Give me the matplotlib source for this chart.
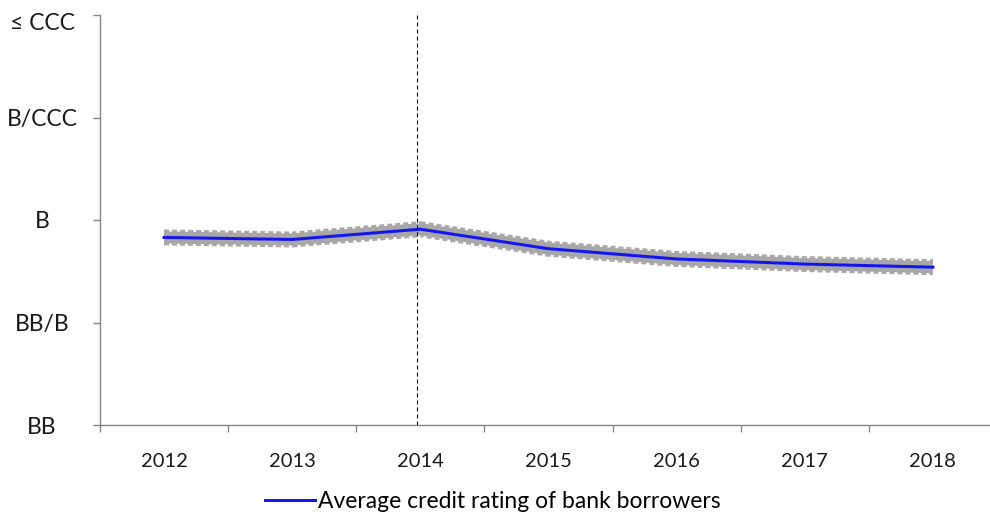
import matplotlib
matplotlib.use("Agg")
import matplotlib.pyplot as plt
from matplotlib.lines import Line2D
from matplotlib.transforms import ScaledTranslation

# ---- data ----
years = ["2012", "2013", "2014", "2015", "2016", "2017", "2018"]
rating_labels = ["BB", "BB/B", "B", "B/CCC", "≤ CCC"]
avg_rating = [1.83, 1.81, 1.91, 1.72, 1.62, 1.57, 1.54]
event_year_pos = 1.97  # vertical marker near 2014
legend_label = "Average credit rating of bank borrowers"

plt.rcParams['font.family'] = ['Lato', 'DejaVu Sans']
plt.rcParams['lines.scale_dashes'] = False

DPI = 100
fig = plt.figure(figsize=(9.9, 5.19), dpi=DPI)
W, H = 990, 519
ax = fig.add_axes([100 / W, 1 - 425 / H, 897 / W, 410 / H])

x = list(range(len(years)))
px = 72 / DPI  # points per pixel

# gray band: solid core + dashed outer for "square bump" look
ax.plot(x, avg_rating, color="#a6a6a6", lw=12 * px, solid_capstyle="butt", zorder=2)
ax.plot(x, avg_rating, color="#a8a8a8", lw=16 * px, dashes=(5 * px, 3 * px),
        dash_capstyle="butt", zorder=2)
ax.plot(x, avg_rating, color="#1414f0", lw=3 * px, zorder=3)

ax.axvline(event_year_pos, color="black", lw=1.1 * px, dashes=(4 * px, 3 * px), zorder=4)

ax.set_xlim(-0.5, len(years) - 0.5)
ax.set_ylim(0, len(rating_labels) - 1)

# spines
for s in ["top", "right"]:
    ax.spines[s].set_visible(False)
for s in ["left", "bottom"]:
    ax.spines[s].set_color("#868686")
    ax.spines[s].set_linewidth(1.0)

# x ticks: boundaries (major, no labels) and centers (minor, labels)
ax.set_xticks([i - 0.5 for i in range(len(years) + 1)])
ax.set_xticklabels([])
ax.set_xticks(x, minor=True)
ax.set_xticklabels(years, minor=True, fontsize=14.5, color="#1a1a1a")
ax.tick_params(axis="x", which="major", direction="out", length=7 * px, width=1,
               color="#868686")
ax.tick_params(axis="x", which="minor", length=0, pad=28 * px)

# y ticks
ax.set_yticks(range(len(rating_labels)))
ax.set_yticklabels(rating_labels, fontsize=16.5, color="#1a1a1a", ha="center")
ax.tick_params(axis="y", direction="out", length=7 * px, width=1, color="#868686",
               pad=(58 - 7) * px)
labs = ax.get_yticklabels()
for i, lab in enumerate(labs):
    lab.set_va("center")
    dy = -8 if i == len(labs) - 1 else -2
    lab.set_transform(lab.get_transform() + ScaledTranslation(0, dy / DPI, fig.dpi_scale_trans))

handle = Line2D([], [], color="#1414f0", lw=3 * px)
fig.legend([handle], [legend_label], loc="center", bbox_to_anchor=(493 / W, 1 - 502 / H),
           frameon=False, fontsize=16.5, handlelength=2.2, handletextpad=0.13,
           borderpad=0, borderaxespad=0)

fig.savefig("out.png", dpi=DPI)
